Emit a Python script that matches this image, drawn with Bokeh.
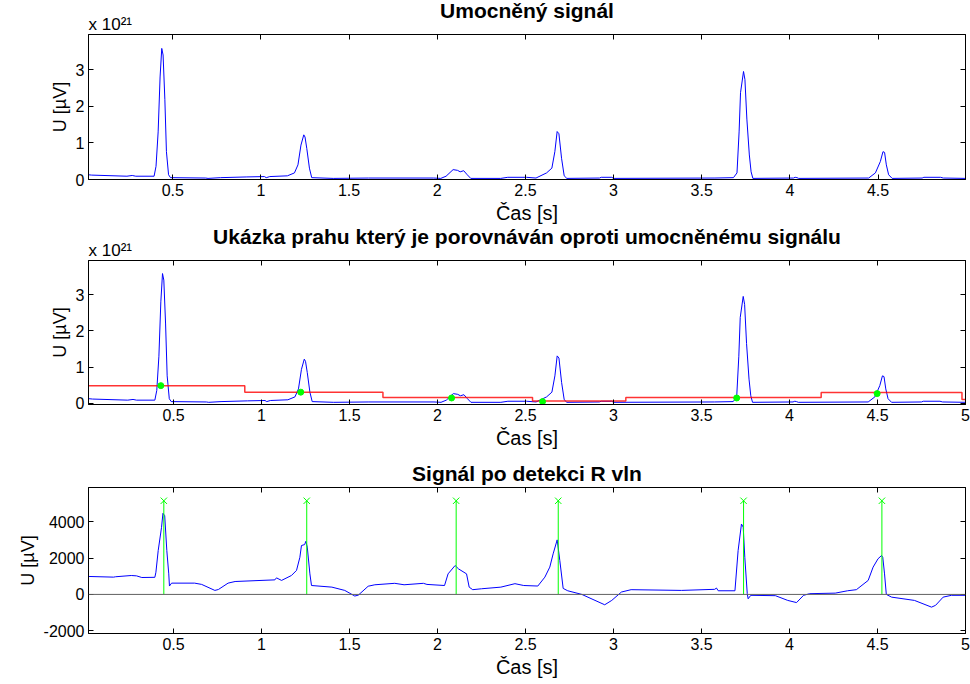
from bokeh.plotting import figure
from bokeh.layouts import column
from bokeh.models import Range1d, FixedTicker, LinearAxis, Title, Span, CustomJSTickFormatter
from bokeh.embed import file_html
from bokeh.resources import INLINE

# ---------------- data ----------------
# power (umocněný) signal, units of 1e21
pow_t = [0.02, 0.04, 0.24, 0.27, 0.29, 0.394, 0.405, 0.417, 0.428, 0.4375, 0.445, 0.455, 0.464, 0.476,
         0.487, 0.687, 0.70, 0.77, 0.92, 1.02, 1.03, 1.05, 1.15, 1.19, 1.21, 1.227, 1.243, 1.25, 1.26,
         1.275, 1.288, 1.41, 1.61, 1.98, 2.02, 2.05, 2.09, 2.115, 2.13, 2.15, 2.17, 2.19, 2.36, 2.40,
         2.506, 2.56, 2.62, 2.65, 2.667, 2.68, 2.69, 2.705, 2.72, 2.735, 2.92, 2.93, 2.99, 3.0, 3.575,
         3.68, 3.70, 3.712, 3.72, 3.737, 3.745, 3.756, 3.77, 3.78, 3.79, 4.02, 4.03, 4.04, 4.05, 4.447,
         4.485, 4.513, 4.528, 4.537, 4.547, 4.56, 4.58, 4.75, 4.76, 4.855, 4.87, 5.0]
pow_v = [0.13, 0.12, 0.09, 0.11, 0.09, 0.09, 0.36, 1.30, 2.80, 3.58, 3.40, 2.19, 0.76, 0.13,
         0.05, 0.04, 0.03, 0.05, 0.07, 0.08, 0.05, 0.08, 0.10, 0.18, 0.40, 0.94, 1.22, 1.16, 0.85,
         0.31, 0.05, 0.03, 0.04, 0.04, 0.03, 0.09, 0.27, 0.25, 0.21, 0.24, 0.13, 0.03, 0.03, 0.06,
         0.06, 0.04, 0.18, 0.31, 0.76, 1.31, 1.25, 0.58, 0.10, 0.03, 0.04, 0.06, 0.06, 0.03, 0.04,
         0.05, 0.18, 1.30, 2.37, 2.95, 2.73, 1.65, 0.67, 0.21, 0.03, 0.04, 0.06, 0.05, 0.03, 0.04,
         0.18, 0.49, 0.76, 0.74, 0.40, 0.13, 0.03, 0.04, 0.06, 0.06, 0.04, 0.03]

# threshold (práh) step function, units of 1e21
thr_edges = [0.02, 0.905, 1.69, 2.54, 3.07, 4.18, 4.98, 5.0]
thr_levels = [0.49, 0.31, 0.16, 0.065, 0.16, 0.30, 0.11, 0.11]

# threshold crossing points
cross_t = [0.428, 1.223, 2.08, 2.597, 3.70, 4.498]
cross_v = [0.49, 0.31, 0.15, 0.05, 0.15, 0.27]

# ECG signal (µV)
ecg_t = [0.02, 0.16, 0.17, 0.26, 0.29, 0.32, 0.394, 0.40, 0.413, 0.432, 0.44, 0.45, 0.462, 0.473,
         0.477, 0.489, 0.62, 0.66, 0.735, 0.755, 0.81, 0.85, 1.076, 1.085, 1.114, 1.17, 1.199, 1.218,
         1.227, 1.245, 1.252, 1.26, 1.275, 1.284, 1.40, 1.473, 1.53, 1.55, 1.606, 1.644, 1.757, 1.81,
         1.92, 1.94, 2.04, 2.06, 2.10, 2.12, 2.165, 2.18, 2.20, 2.25, 2.36, 2.44, 2.49, 2.57, 2.61,
         2.638, 2.657, 2.68, 2.695, 2.714, 2.74, 2.82, 2.95, 2.99, 3.045, 3.10, 3.386, 3.575, 3.585,
         3.595, 3.69, 3.708, 3.727, 3.737, 3.746, 3.76, 3.765, 3.78, 3.92, 3.99, 4.04, 4.08, 4.115,
         4.26, 4.33, 4.38, 4.447, 4.475, 4.503, 4.523, 4.53, 4.54, 4.55, 4.58, 4.71, 4.807, 4.83,
         4.873, 4.92, 5.0]
ecg_v = [986, 950, 970, 1040, 1020, 930, 940, 1220, 2410, 3690, 4460, 4330, 2410, 1130,
         460, 620, 620, 550, 220, 270, 620, 710, 800, 910, 770, 1040, 1320, 2040,
         2690, 2740, 2920, 2600, 1130, 490, 400, 220, -90, -40, 450, 530, 610, 530,
         610, 550, 490, 1130, 1590, 1400, 1130, 400, 260, 310, 400, 590, 490, 460, 950,
         1500, 2230, 3000, 1860, 330, 200, 0, -570, -330, 130, 260, 220, 280, 350,
         200, 200, 2410, 3870, 3700, 2040, 40, -240, -50, -70, -330, -450, -50, 40,
         70, 200, 260, 770, 1500, 1960, 2140, 2040, 1130, 0, -150, -330, -700, -600,
         -150, -50, -50]

# detected R waves
r_t = [0.445, 1.257, 2.106, 2.686, 3.739, 4.525]
r_level = [5150, 5150, 5150, 5150, 5150, 5150]

x_ticks_top = [0.5, 1, 1.5, 2, 2.5, 3, 3.5, 4, 4.5]
x_ticks = [0.5, 1, 1.5, 2, 2.5, 3, 3.5, 4, 4.5, 5]
y_ticks_pow = [0, 1, 2, 3]
y_ticks_ecg = [-2000, 0, 2000, 4000]

titles = ["Umocněný signál",
          "Ukázka prahu který je porovnáván oproti umocněnému signálu",
          "Signál po detekci R vln"]
x_label = "Čas [s]"
y_label = "U [µV]"
multiplier = "x 10²¹"

FONT = "Liberation Sans"
BLUE = "#0000ff"
GREEN = "#00ff00"
RED = "#ff0000"


def style_axis(ax, labels=True, label_size="20px"):
    ax.axis_line_color = "black"
    ax.major_tick_line_color = "black"
    ax.major_tick_in = 5
    ax.major_tick_out = 0
    ax.minor_tick_line_color = None
    ax.major_label_text_font = FONT
    ax.major_label_text_color = "black"
    ax.axis_label_text_font = FONT
    ax.axis_label_text_font_style = "normal"
    ax.axis_label_text_font_size = label_size
    ax.axis_label_text_color = "black"
    if labels:
        ax.major_label_text_font_size = "16px"
        ax.major_label_standoff = 4
        ax.axis_label_standoff = 3
    else:
        ax.major_label_text_font_size = "0px"
        ax.major_label_standoff = 0


def make_fig(height, xr, yr, top, bottom, title, xt, yt, with_mult):
    p = figure(width=970, height=height, x_range=Range1d(*xr), y_range=Range1d(*yr),
               output_backend="svg", toolbar_location=None,
               min_border_left=88, min_border_right=5, min_border_top=top,
               min_border_bottom=bottom)
    p.title.text = title
    p.title.align = "center"
    p.title.text_font = FONT
    p.title.text_font_size = "21px"
    p.title.text_font_style = "bold"
    p.title.text_color = "black"
    p.title.text_line_height = 1.4
    p.title.standoff = -20 if with_mult else 6
    p.grid.visible = False
    p.outline_line_color = "black"
    p.outline_line_alpha = 1.0
    p.background_fill_color = "white"
    p.border_fill_color = "white"
    fmt = CustomJSTickFormatter(code="return tick.toString()")
    p.xaxis.ticker = FixedTicker(ticks=xt)
    p.xaxis.formatter = fmt
    p.yaxis.ticker = FixedTicker(ticks=yt)
    p.yaxis.formatter = CustomJSTickFormatter(code="return tick.toString()")
    p.xaxis.axis_label = x_label
    p.yaxis.axis_label = y_label
    for ax in p.xaxis:
        style_axis(ax, label_size="20px")
    for ax in p.yaxis:
        style_axis(ax, label_size="18px")
    ra = LinearAxis(ticker=FixedTicker(ticks=yt))
    style_axis(ra, labels=False)
    p.add_layout(ra, "right")
    ta = LinearAxis(ticker=FixedTicker(ticks=xt))
    style_axis(ta, labels=False)
    p.add_layout(ta, "above")
    if with_mult:
        p.add_layout(Title(text=multiplier, align="left", text_font=FONT, text_font_size="17px",
                           text_font_style="normal", text_color="black", standoff=2), "above")
    return p


# panel 1
p1 = make_fig(226, (0.022, 4.996), (0.0, 3.96), 34, 44, titles[0], x_ticks_top, y_ticks_pow, True)
p1.line(pow_t, pow_v, line_color=BLUE, line_width=1)

# panel 2
p2 = make_fig(225, (0.017, 5.0), (-0.03, 3.94), 34, 44, titles[1], x_ticks, y_ticks_pow, True)
p2.line(pow_t, pow_v, line_color=BLUE, line_width=1)
p2.step(thr_edges, thr_levels, mode="after", line_color=RED, line_width=1.5, line_alpha=0.8)
p2.scatter(cross_t, cross_v, marker="circle", size=6, fill_color=GREEN, line_color=GREEN)

# panel 3
p3 = make_fig(233, (0.017, 5.0), (-2150, 5880), 36, 51, titles[2], x_ticks, y_ticks_ecg, False)
p3.add_layout(Span(location=0, dimension="width", line_color="#606060", line_width=1))
p3.line(ecg_t, ecg_v, line_color=BLUE, line_width=1)
p3.segment(x0=r_t, y0=[0] * len(r_t), x1=r_t, y1=r_level, line_color=GREEN, line_width=1)
p3.scatter(r_t, r_level, marker="x", size=9, line_color=GREEN, line_width=1)

layout = column(p1, p2, p3, spacing=0)
open("out.html", "w").write(file_html(layout, INLINE))
